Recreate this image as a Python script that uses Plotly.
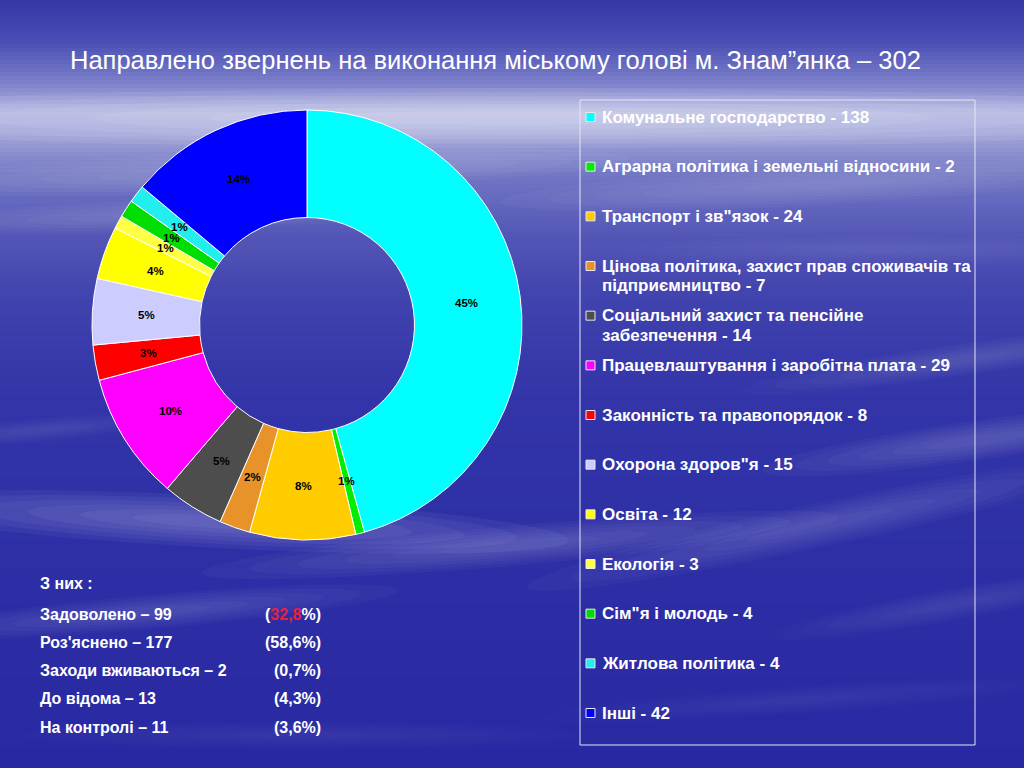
import math
import plotly.graph_objects as go

# ---------------- data ----------------
categories = [
    "Комунальне господарство",
    "Аграрна політика і земельні відносини",
    "Транспорт і зв\"язок",
    "Цінова політика, захист прав споживачів та<br>підприємництво",
    "Соціальний захист та пенсійне<br>забезпечення",
    "Працевлаштування і заробітна плата",
    "Законність та правопорядок",
    "Охорона здоров\"я",
    "Освіта",
    "Екологія",
    "Сім\"я і молодь",
    "Житлова політика",
    "Інші",
]
values = [138, 2, 24, 7, 14, 29, 8, 15, 12, 3, 4, 4, 42]
pct_labels = ["45%", "1%", "8%", "2%", "5%", "10%", "3%", "5%", "4%", "1%", "1%", "1%", "14%"]
colors = ["#00FFFF", "#00EE00", "#FFCC00", "#E8922A", "#4D4D4D", "#FF00FF", "#FF0000",
          "#CCCCFF", "#FFFF00", "#FFFF44", "#00DD00", "#22EEEE", "#0000FF"]

title_text = "Направлено звернень на виконання міському голові м. Знам”янка – 302"

outcome_labels = ["Задоволено – 99", "Роз'яснено – 177", "Заходи вживаються – 2", "До відома – 13", "На контролі – 11"]
outcome_pcts = ["32,8", "58,6", "0,7", "4,3", "3,6"]

W, H = 1024, 768
FONT = "Arial, Liberation Sans, sans-serif"


def px(x):
    return x / W


def py(y):
    return 1 - y / H


# ---------------- background ----------------
stops = [(0, (54, 54, 166)), (40, (72, 76, 180)), (80, (120, 124, 200)), (112, (176, 180, 224)),
         (135, (160, 164, 216)), (175, (114, 118, 196)), (235, (84, 86, 182)), (300, (64, 66, 174)),
         (400, (50, 52, 168)), (768, (40, 40, 162))]


def grad(y):
    for (y0, c0), (y1, c1) in zip(stops[:-1], stops[1:]):
        if y0 <= y <= y1:
            t = (y - y0) / (y1 - y0)
            return "rgb(%d,%d,%d)" % tuple(round(a + (b - a) * t) for a, b in zip(c0, c1))
    return "rgb(40,40,162)"


shapes = []
step = 4
for y in range(0, H, step):
    shapes.append(dict(type="rect", xref="paper", yref="paper", x0=0, x1=1,
                       y0=py(y + step + 0.5), y1=py(y), fillcolor=grad(y + step / 2),
                       line=dict(width=0), layer="below"))


def ellipse_path(cx, cy, rx, ry, ang):
    a = math.radians(ang)
    pts = []
    for k in range(48):
        t = 2 * math.pi * k / 48
        ex, ey = rx * math.cos(t), ry * math.sin(t)
        x = cx + ex * math.cos(a) + ey * math.sin(a)
        y = cy - ex * math.sin(a) + ey * math.cos(a)
        pts.append("%.5f,%.5f" % (px(x), py(y)))
    return "M" + " L".join(pts) + " Z"


clouds = [
    # cx, cy, rx, ry, angle (deg, + rises to the right), opacity
    (512, 118, 760, 30, 0, 0.30),
    (250, 172, 380, 20, 2, 0.14),
    (180, 215, 280, 16, 2, 0.12),
    (820, 185, 320, 20, 3, 0.12),
    (880, 250, 260, 14, 0, 0.08),
    (960, 360, 220, 16, 8, 0.10),
    (980, 440, 220, 20, 8, 0.14),
    (40, 430, 140, 12, 5, 0.08),
    (220, 522, 350, 26, -3, 0.22),
    (520, 545, 320, 20, 5, 0.14),
    (820, 525, 300, 22, 12, 0.12),
    (150, 612, 250, 17, 5, 0.12),
    (950, 605, 180, 16, 10, 0.08),
    (300, 735, 280, 14, 0, 0.05),
    (800, 700, 260, 14, 4, 0.05),
]
scales = (1.0, 0.85, 0.7, 0.55, 0.4, 0.25)
for cxx, cyy, rx, ry, ang, op in clouds:
    for s in scales:
        shapes.append(dict(type="path", xref="paper", yref="paper",
                           path=ellipse_path(cxx, cyy, rx * s, ry * s, ang),
                           fillcolor="white", opacity=op * 0.22,
                           line=dict(width=0), layer="below"))

# legend box
shapes.append(dict(type="rect", xref="paper", yref="paper", x0=px(580), x1=px(975),
                   y0=py(745), y1=py(100), line=dict(color="#E6E6F4", width=1),
                   fillcolor="rgba(0,0,0,0)", layer="above"))

annotations = []

# title
annotations.append(dict(text=title_text, x=px(68), y=py(60), xref="paper", yref="paper",
                        xanchor="left", yanchor="middle", showarrow=False,
                        font=dict(family=FONT, size=25.5, color="white")))

# manual legend
leg_top = 117
leg_step = (713 - 117) / 12
for i, (cat, val, col) in enumerate(zip(categories, values, colors)):
    yc = leg_top + i * leg_step
    shapes.append(dict(type="rect", xref="paper", yref="paper", x0=px(586), x1=px(595),
                       y0=py(yc + 4.5), y1=py(yc - 4.5), fillcolor=col,
                       line=dict(color="#E8E8F0", width=1), layer="above"))
    lines = ("%s - %d" % (cat, val)).split("<br>")
    for j, ln in enumerate(lines):
        annotations.append(dict(text="<b>%s</b>" % ln, x=px(600), y=py(yc + 20 * j),
                                xref="paper", yref="paper", xanchor="left", yanchor="middle",
                                align="left", showarrow=False,
                                font=dict(family=FONT, size=17, color="white")))

# outcomes block
annotations.append(dict(text="<b>З них :</b>", x=px(38), y=py(583), xref="paper", yref="paper",
                        xanchor="left", yanchor="middle", showarrow=False,
                        font=dict(family=FONT, size=16, color="white")))
row_y = [614, 642, 670, 698, 727]
for lbl, pc, yy in zip(outcome_labels, outcome_pcts, row_y):
    annotations.append(dict(text="<b>%s</b>" % lbl, x=px(38), y=py(yy), xref="paper", yref="paper",
                            xanchor="left", yanchor="middle", showarrow=False,
                            font=dict(family=FONT, size=16, color="white")))
    if lbl.startswith("Задоволено"):
        pct_txt = "<b>(<span style='color:#E8203A'>%s</span>%%)</b>" % pc
    else:
        pct_txt = "<b>(%s%%)</b>" % pc
    annotations.append(dict(text=pct_txt, x=px(323), y=py(yy), xref="paper", yref="paper",
                            xanchor="right", yanchor="middle", showarrow=False,
                            font=dict(family=FONT, size=16, color="white")))

# ---------------- pie ----------------
cx, cy, r = 307, 325, 215
hole = 0.5
total = sum(values)

# percentage labels at mid-ring of each slice (derived from the values)
r_mid = r * (1 + hole) / 2
cum = 0
for v, lab in zip(values, pct_labels):
    ang = 2 * math.pi * (cum + v / 2) / total
    cum += v
    annotations.append(dict(text="<b>%s</b>" % lab,
                            x=px(cx + r_mid * math.sin(ang)), y=py(cy - r_mid * math.cos(ang)),
                            xref="paper", yref="paper", xanchor="center", yanchor="middle",
                            showarrow=False, font=dict(family=FONT, size=11.5, color="black")))

fig = go.Figure(go.Pie(
    labels=[c.replace("<br>", " ") for c in categories],
    values=values,
    textinfo="none",
    marker=dict(colors=colors, line=dict(color="white", width=1)),
    hole=hole,
    sort=False,
    direction="clockwise",
    rotation=0,
    domain=dict(x=[px(cx - r), px(cx + r)], y=[py(cy + r), py(cy - r)]),
    showlegend=False,
))

fig.update_layout(
    width=W, height=H,
    margin=dict(l=0, r=0, t=0, b=0),
    paper_bgcolor="rgb(40,40,162)",
    plot_bgcolor="rgba(0,0,0,0)",
    shapes=shapes,
    annotations=annotations,
    showlegend=False,
)

fig.write_html("out.html", config={"displayModeBar": False},
               post_script="document.body.style.margin='0';document.body.style.overflow='hidden';")
